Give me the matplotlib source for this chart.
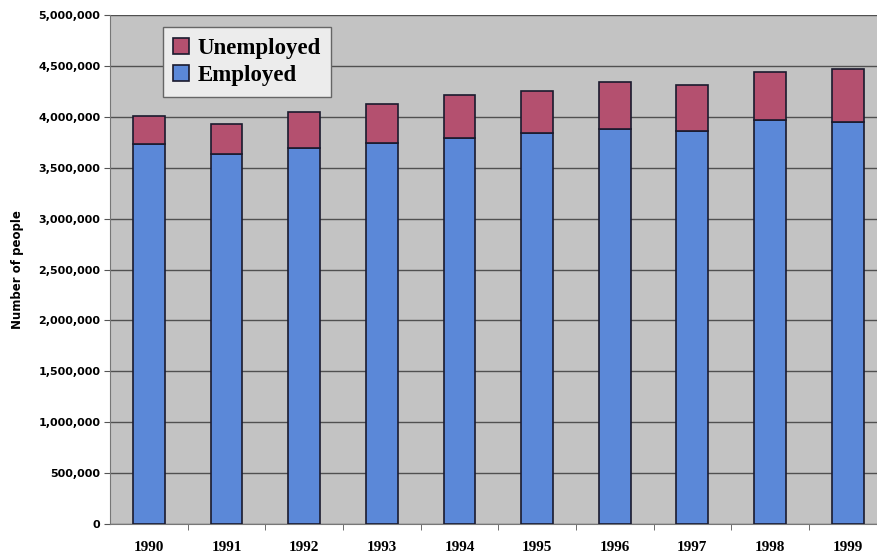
import numpy as np
import matplotlib.pyplot as plt
from matplotlib.ticker import FuncFormatter, MultipleLocator, FixedLocator

# labour force by year
years = ["1990", "1991", "1992", "1993", "1994", "1995", "1996", "1997", "1998", "1999"]
employed = [3730000, 3630000, 3690000, 3740000, 3790000, 3840000, 3880000, 3860000, 3970000, 3950000]
unemployed = [280000, 300000, 360000, 390000, 420000, 410000, 460000, 450000, 470000, 520000]

blue = "#5b88d8"
red = "#b4506f"
bg = "#c3c3c3"

fig = plt.figure(figsize=(8.78, 5.53), dpi=100)
ax = fig.add_axes([0.1253, 0.0524, 0.8747, 0.9205])
ax.set_facecolor(bg)

x = np.arange(len(years))
w = 0.41
ax.bar(x, employed, w, color=blue, edgecolor="#1a1a2e", linewidth=1.2,
       label="Employed", zorder=3)
ax.bar(x, unemployed, w, bottom=employed, color=red, edgecolor="#1a1a2e",
       linewidth=1.2, label="Unemployed", zorder=3)

ax.set_ylim(0, 5000000)
ax.set_xlim(-0.5, 9.39)
ax.yaxis.set_major_locator(MultipleLocator(500000))
ax.yaxis.set_major_formatter(FuncFormatter(lambda v, p: f"{int(v):,}"))
ax.grid(axis="y", color="#505050", linewidth=1.0, zorder=1)

ax.set_xticks(x)
ax.set_xticklabels(years, fontfamily="Liberation Serif", fontweight="bold", fontsize=11)
ax.xaxis.set_minor_locator(FixedLocator(np.arange(0.5, 9.5, 1.0)))
ax.tick_params(axis="x", which="major", length=0, pad=12)
ax.tick_params(axis="x", which="minor", length=4, color="#555555")
ax.tick_params(axis="y", length=4, color="#555555", pad=3)
for lab in ax.get_yticklabels():
    lab.set_fontweight("bold")
    lab.set_fontsize(8)

ax.set_ylabel("Number of people", fontsize=8.5, fontweight="bold", labelpad=10)

for s in ["top", "right"]:
    ax.spines[s].set_visible(False)
ax.spines["left"].set_color("#777777")
ax.spines["bottom"].set_color("#777777")

handles, labels = ax.get_legend_handles_labels()
leg = ax.legend(handles[::-1], labels[::-1], loc="upper left",
                bbox_to_anchor=(0.069, 0.976), prop={"family": "Liberation Serif",
                                                     "weight": "bold", "size": 16.5},
                frameon=True, fancybox=False, handlelength=0.7, handleheight=0.7,
                handletextpad=0.35, borderpad=0.45, labelspacing=0.3, borderaxespad=0)
leg.get_frame().set_facecolor("#ececec")
leg.get_frame().set_edgecolor("#666666")
leg.get_frame().set_alpha(1)

fig.savefig("out.png", dpi=100)
